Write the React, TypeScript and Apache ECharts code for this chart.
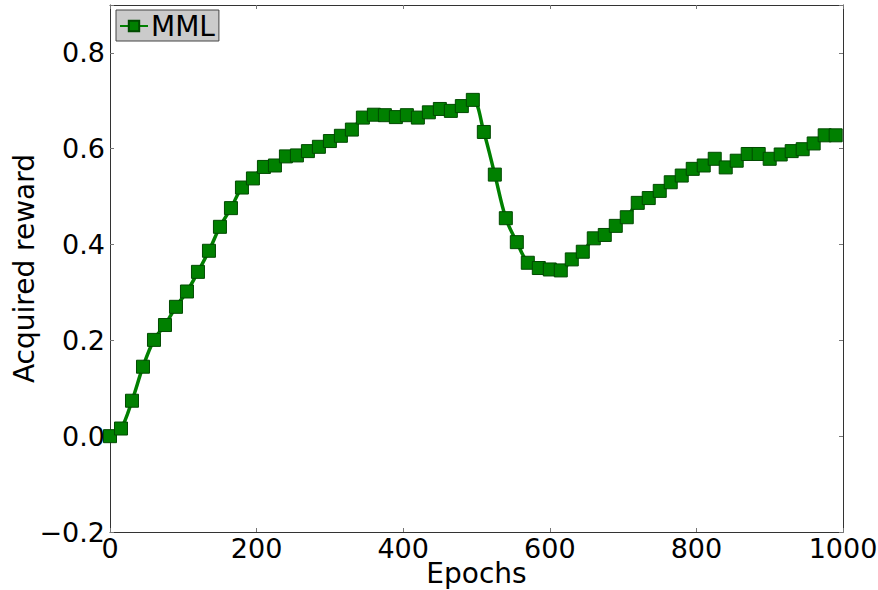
import React, { useEffect, useRef } from "react";
import * as echarts from "echarts";

const epochs: number[] = [
  0, 15, 30, 45, 60, 75, 90, 105, 120, 135, 150, 165, 180, 195, 210, 225, 240, 255, 270, 285,
  300, 315, 330, 345, 360, 375, 390, 405, 420, 435, 450, 465, 480, 495, 510, 525, 540, 555, 570, 585,
  600, 615, 630, 645, 660, 675, 690, 705, 720, 735, 750, 765, 780, 795, 810, 825, 840, 855, 870, 885,
  900, 915, 930, 945, 960, 975, 990,
];

const mmlReward: number[] = [
  0.0, 0.016, 0.074, 0.145, 0.201, 0.232, 0.27, 0.302, 0.343, 0.387, 0.437, 0.476, 0.519, 0.538, 0.562,
  0.565, 0.584, 0.586, 0.595, 0.604, 0.616, 0.627, 0.64, 0.665, 0.671, 0.67, 0.666, 0.67, 0.665, 0.676,
  0.683, 0.679, 0.689, 0.702, 0.635, 0.546, 0.455, 0.405, 0.362, 0.351, 0.348, 0.346, 0.369, 0.385, 0.413,
  0.42, 0.439, 0.457, 0.487, 0.497, 0.512, 0.53, 0.544, 0.558, 0.565, 0.579, 0.561, 0.575, 0.589, 0.589,
  0.579, 0.588, 0.595, 0.599, 0.611, 0.628, 0.628,
];

const seriesName = "MML";
const xAxisName = "Epochs";
const yAxisName = "Acquired reward";

const FONT = "DejaVu Sans";

export default function App() {
  const ref = useRef<HTMLDivElement>(null);
  useEffect(() => {
    if (!ref.current) return;
    const chart = echarts.init(ref.current, null, { renderer: "svg" });
    const fmtY = (v: number) => {
      if (v > 0.85) return "";
      const s = Math.abs(v).toFixed(1);
      return v < -1e-9 ? "\u2212" + s : s;
    };
    const fmtX = (v: number) => String(Math.round(v));
    const axisLineStyle = { color: "#333", width: 1 };
    const tick = { show: true, inside: true, length: 4, lineStyle: { color: "#777" } };
    chart.setOption({
      animation: false,
      backgroundColor: "#fff",
      grid: {
        left: 110,
        right: 35,
        top: 5,
        bottom: 58,
        containLabel: false,
        outerBoundsMode: "none",
      },
      legend: {
        show: true,
        left: 116,
        top: 10,
        data: [seriesName],
        backgroundColor: "#cbcbcb",
        borderColor: "#444",
        borderWidth: 1,
        borderRadius: 0,
        padding: [2, 4, 1, 3],
        itemWidth: 28,
        itemHeight: 13,
        itemGap: 4,
        textStyle: { fontFamily: FONT, fontSize: 28, color: "#000", padding: [0, 0, 0, -2] },
      },
      xAxis: [
        {
          type: "value",
          min: 0,
          max: 1000,
          interval: 200,
          position: "bottom",
          name: xAxisName,
          nameLocation: "middle",
          nameGap: 27,
          nameMoveOverlap: false,
          nameTextStyle: { fontFamily: FONT, fontSize: 28, color: "#000" },
          axisLine: { show: true, onZero: false, lineStyle: axisLineStyle },
          axisTick: tick,
          axisLabel: { fontFamily: FONT, fontSize: 27, color: "#000", margin: 3, formatter: fmtX },
          splitLine: { show: false },
        },
        {
          type: "value",
          min: 0,
          max: 1000,
          interval: 200,
          position: "top",
          axisLine: { show: true, onZero: false, lineStyle: axisLineStyle },
          axisTick: tick,
          axisLabel: { show: false },
          splitLine: { show: false },
        },
      ],
      yAxis: [
        {
          type: "value",
          min: -0.2,
          max: 0.9,
          interval: 0.2,
          position: "left",
          name: yAxisName,
          nameLocation: "middle",
          nameGap: 72,
          nameMoveOverlap: false,
          nameTextStyle: { fontFamily: FONT, fontSize: 28, color: "#000" },
          axisLine: { show: true, onZero: false, lineStyle: axisLineStyle },
          axisTick: tick,
          axisLabel: { fontFamily: FONT, fontSize: 27, color: "#000", margin: 5, formatter: fmtY },
          splitLine: { show: false },
        },
        {
          type: "value",
          min: -0.2,
          max: 0.9,
          interval: 0.2,
          position: "right",
          axisLine: { show: true, onZero: false, lineStyle: axisLineStyle },
          axisTick: tick,
          axisLabel: { show: false },
          splitLine: { show: false },
        },
      ],
      series: [
        {
          name: seriesName,
          type: "line",
          xAxisIndex: 0,
          yAxisIndex: 0,
          data: epochs.map((e, i) => [e, mmlReward[i]]),
          smooth: 0.35,
          symbol: "rect",
          symbolSize: 13,
          showSymbol: true,
          lineStyle: { color: "#008000", width: 3.5 },
          itemStyle: { color: "#008000", borderColor: "#004a00", borderWidth: 1 },
          emphasis: { disabled: true },
          clip: true,
        },
      ],
    });
    return () => chart.dispose();
  }, []);
  return (
    <div
      ref={ref}
      style={{ position: "fixed", left: 0, top: 0, width: 878, height: 590, background: "#fff" }}
    />
  );
}
